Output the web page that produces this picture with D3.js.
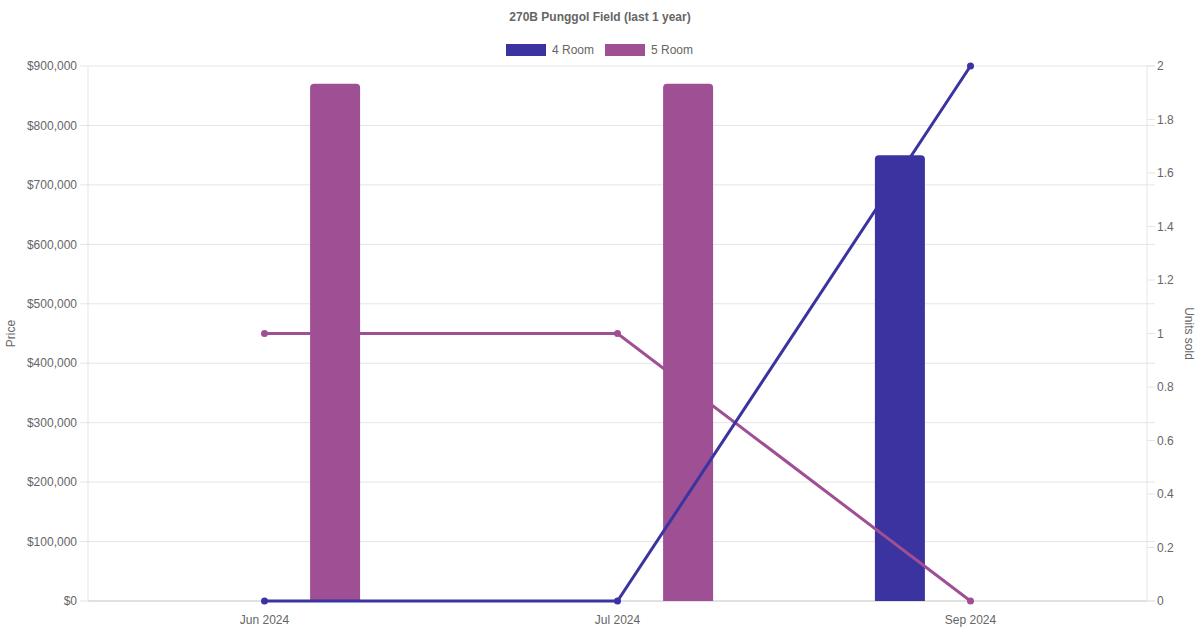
<!DOCTYPE html>
<html><head><meta charset="utf-8">
<script src="https://cdn.jsdelivr.net/npm/d3@7"></script>
<style>body{margin:0;background:#fff;font-family:"Liberation Sans",Arial,sans-serif}</style>
</head><body>
<svg id="c" width="1200" height="630"></svg>
<script>
const categories = ["Jun 2024", "Jul 2024", "Sep 2024"];
const seriesNames = ["4 Room", "5 Room"];
const seriesColors = ["#3a33a0", "#9f4f93"];
const priceTicks = [0,100000,200000,300000,400000,500000,600000,700000,800000,900000];
const unitTicks = [0,0.2,0.4,0.6,0.8,1,1.2,1.4,1.6,1.8,2];
const price4Room = [null, null, 750000];
const price5Room = [870000, 870000, null];
const units4Room = [0, 0, 2];
const units5Room = [1, 1, 0];

const prices = [price4Room, price5Room];
const units = [units4Room, units5Room];

const svg = d3.select("#c");
const L = 88, R = 1147, T = 66, B = 601;
const txt = "#666", grid = "#e5e5e5";

const x = d3.scaleBand().domain(categories).range([L, R]);
const yP = d3.scaleLinear().domain([0, 900000]).range([B, T]);
const yU = d3.scaleLinear().domain([0, 2]).range([B, T]);

// gridlines
svg.append("g").selectAll("line").data(priceTicks).join("line")
  .attr("x1", L - 8).attr("x2", R + 8)
  .attr("y1", d => yP(d)).attr("y2", d => yP(d))
  .attr("stroke", grid).attr("stroke-width", 1);
// axis lines
svg.append("line").attr("x1", L).attr("x2", L).attr("y1", T).attr("y2", B).attr("stroke", grid);
svg.append("line").attr("x1", R).attr("x2", R).attr("y1", T).attr("y2", B).attr("stroke", grid);
svg.append("line").attr("x1", L).attr("x2", R).attr("y1", B).attr("y2", B).attr("stroke", "#d0d0d0");

// right ticks
svg.append("g").selectAll("line").data(unitTicks).join("line")
  .attr("x1", R).attr("x2", R + 8)
  .attr("y1", d => yU(d)).attr("y2", d => yU(d))
  .attr("stroke", grid);

const fmt = d => "$" + d3.format(",")(d);
svg.append("g").selectAll("text").data(priceTicks).join("text")
  .attr("x", L - 11).attr("y", d => yP(d)).attr("dy", "0.35em")
  .attr("text-anchor", "end").attr("font-size", 12).attr("fill", txt).text(fmt);
svg.append("g").selectAll("text").data(unitTicks).join("text")
  .attr("x", R + 10).attr("y", d => yU(d)).attr("dy", "0.35em")
  .attr("text-anchor", "start").attr("font-size", 12).attr("fill", txt).text(d => d3.format("~g")(d));
svg.append("g").selectAll("text").data(categories).join("text")
  .attr("x", d => x(d) + x.bandwidth() / 2).attr("y", B + 23)
  .attr("text-anchor", "middle").attr("font-size", 12).attr("fill", txt).text(d => d);

// axis titles
svg.append("text").attr("transform", `translate(15,${(T + B) / 2}) rotate(-90)`)
  .attr("text-anchor", "middle").attr("font-size", 12).attr("fill", txt).text("Price");
svg.append("text").attr("transform", `translate(1185,${(T + B) / 2}) rotate(90)`)
  .attr("text-anchor", "middle").attr("font-size", 12).attr("fill", txt).text("Units sold");

// bars
const inner = d3.scaleBand().domain([0, 1]).range([0, x.bandwidth() * 0.8]);
const barW = 50, rad = 4;
prices.forEach((arr, si) => {
  categories.forEach((c, i) => {
    const v = arr[i];
    if (v == null) return;
    const cx = x(c) + x.bandwidth() * 0.1 + inner(si) + inner.bandwidth() / 2;
    const x0 = cx - barW / 2, y0 = yP(v), h = B - y0;
    const p = `M${x0},${B}V${y0 + rad}Q${x0},${y0} ${x0 + rad},${y0}H${x0 + barW - rad}Q${x0 + barW},${y0} ${x0 + barW},${y0 + rad}V${B}Z`;
    svg.append("path").attr("d", p).attr("fill", seriesColors[si]);
  });
});

// lines
const line = d3.line().x((d, i) => x(categories[i]) + x.bandwidth() / 2).y(d => yU(d));
[1, 0].forEach(si => {
  svg.append("path").attr("d", line(units[si])).attr("fill", "none")
    .attr("stroke", seriesColors[si]).attr("stroke-width", 3);
  svg.append("g").selectAll("circle").data(units[si]).join("circle")
    .attr("cx", (d, i) => x(categories[i]) + x.bandwidth() / 2).attr("cy", d => yU(d))
    .attr("r", 3.5).attr("fill", seriesColors[si]);
});

// title
svg.append("text").attr("x", 600).attr("y", 21).attr("text-anchor", "middle")
  .attr("font-size", 12).attr("font-weight", "bold").attr("fill", txt)
  .text("270B Punggol Field (last 1 year)");

// legend
const lg = [{n: seriesNames[0], x: 506}, {n: seriesNames[1], x: 605}];
lg.forEach((d, i) => {
  svg.append("rect").attr("x", d.x).attr("y", 44).attr("width", 40).attr("height", 12)
    .attr("fill", seriesColors[i]);
  svg.append("text").attr("x", d.x + 46).attr("y", 50).attr("dy", "0.35em")
    .attr("font-size", 12).attr("fill", txt).text(d.n);
});
</script>
</body></html>
